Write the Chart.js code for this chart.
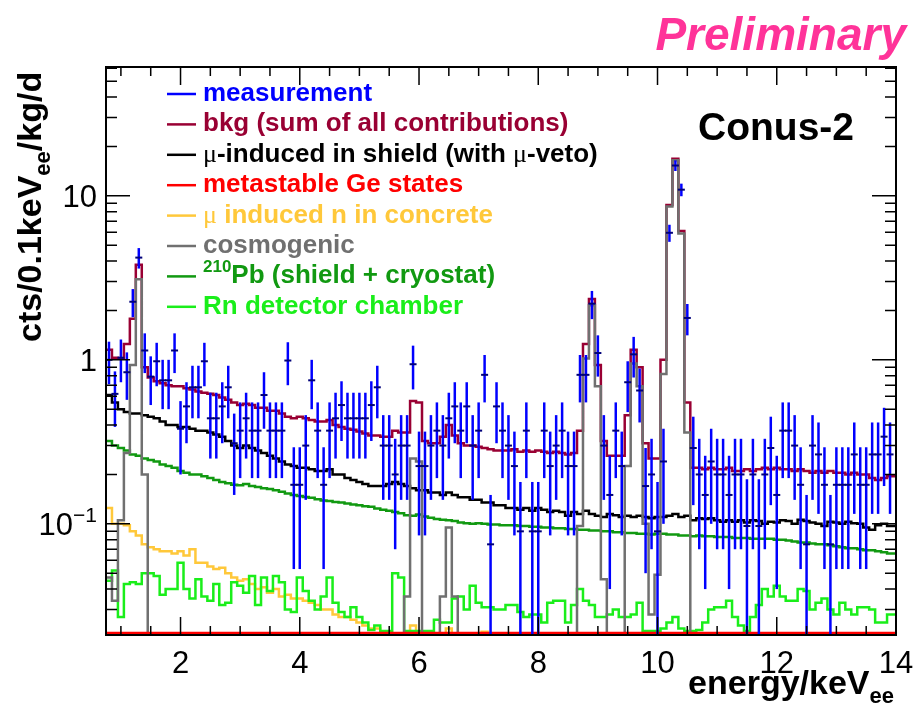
<!DOCTYPE html>
<html>
<head>
<meta charset="utf-8">
<script src="https://cdn.jsdelivr.net/npm/chart.js@4.4.0/dist/chart.umd.min.js"></script>
<style>
  html, body { margin: 0; padding: 0; background: #fff; }
  #wrap { width: 915px; height: 711px; }
</style>
</head>
<body>
<div id="wrap"><canvas id="chart" width="915" height="711"></canvas></div>
<script>
// 0.1 keV bins, first bin starts at 0.75 keV (bin centres 0.8 ... 14.0)
const binStart = 0.75;
const binWidth = 0.1;

// measured spectrum (cts/0.1keV/kg/d) and its error
const measured = [
  1.0, 0.62, 1.03, 0.84, 2.26, 4.2, 1.14, 0.79, 0.98, 0.75,
  0.75, 1.14, 0.38, 0.52, 0.68, 0.68, 0.98, 0.44, 0.44, 0.52,
  0.68, 0.31, 0.37, 0.44, 0.37, 0.37, 0.61, 0.37, 0.37, 0.37,
  0.99, 0.173, 0.173, 0.30, 0.75, 0.37, 0.173, 0.37, 0.44, 0.53,
  0.44, 0.44, 0.44, 0.44, 0.53, 0.68, 0.30, 0.30, 0.20, 0.30,
  0.30, 0.94, 0.225, 0.225, 0.30, 0.37, 0.30, 0.44, 0.52, 0.37,
  0.52, 0.30, 0.37, 0.81, 0.075, 0.52, 0.37, 0.30, 0.225, 0.09,
  0.37, 0.09, 0.09, 0.37, 0.225, 0.30, 0.37, 0.225, 0.225, 0.81,
  0.81, 2.2, 1.1, 0.30, 0.15, 0.37, 0.225, 0.73, 1.08, 0.65,
  0.17, 0.2, 0.09, 0.24, 5.95, 15.3, 10.9, 1.8, 0.29, 0.2,
  0.15, 0.24, 0.2, 0.2, 0.15, 0.2, 0.2, 0.097, 0.2, 0.097,
  0.2, 0.29, 0.15, 0.37, 0.37, 0.30, 0.173, 0.075, 0.30, 0.265,
  0.173, 0.075, 0.173, 0.173, 0.173, 0.265, 0.173, 0.173, 0.265, 0.265,
  0.34, 0.265, null
];
const measuredErr = [
  0.29, 0.23, 0.30, 0.27, 0.44, 0.60, 0.31, 0.26, 0.29, 0.25,
  0.25, 0.31, 0.18, 0.21, 0.24, 0.24, 0.29, 0.19, 0.19, 0.21,
  0.24, 0.16, 0.18, 0.19, 0.18, 0.18, 0.23, 0.18, 0.18, 0.18,
  0.29, 0.12, 0.12, 0.16, 0.25, 0.18, 0.12, 0.18, 0.19, 0.21,
  0.19, 0.19, 0.19, 0.19, 0.21, 0.24, 0.16, 0.16, 0.13, 0.16,
  0.16, 0.28, 0.14, 0.14, 0.16, 0.18, 0.16, 0.19, 0.21, 0.18,
  0.21, 0.16, 0.18, 0.26, 0.075, 0.21, 0.18, 0.16, 0.14, 0.09,
  0.18, 0.09, 0.09, 0.18, 0.14, 0.16, 0.18, 0.14, 0.14, 0.26,
  0.26, 0.43, 0.31, 0.16, 0.11, 0.18, 0.14, 0.25, 0.30, 0.235,
  0.12, 0.13, 0.09, 0.14, 0.71, 1.14, 0.96, 0.39, 0.16, 0.13,
  0.11, 0.14, 0.13, 0.13, 0.11, 0.13, 0.13, 0.09, 0.13, 0.09,
  0.13, 0.16, 0.11, 0.18, 0.18, 0.16, 0.12, 0.075, 0.16, 0.15,
  0.12, 0.075, 0.12, 0.12, 0.12, 0.15, 0.12, 0.12, 0.15, 0.15,
  0.17, 0.15, null
];

// background model: sum of all contributions
const bkgTotal = [
  1.15, 1.03, 1.02, 1.25, 1.78, 3.8, 0.9, 0.78, 0.74, 0.72,
  0.70, 0.69, 0.69, 0.67, 0.66, 0.64, 0.63, 0.62, 0.61, 0.59,
  0.57, 0.55, 0.53, 0.54, 0.53, 0.51, 0.51, 0.49, 0.49, 0.47,
  0.45, 0.44, 0.45, 0.44, 0.43, 0.42, 0.42, 0.43, 0.40, 0.39,
  0.38, 0.375, 0.365, 0.355, 0.345, 0.345, 0.34, 0.34, 0.37, 0.36,
  0.36, 0.56, 0.55, 0.32, 0.31, 0.31, 0.34, 0.40, 0.345, 0.31,
  0.30, 0.30, 0.295, 0.29, 0.285, 0.28, 0.28, 0.28, 0.285, 0.275,
  0.28, 0.275, 0.28, 0.275, 0.27, 0.275, 0.27, 0.265, 0.27, 0.37,
  1.25, 2.35, 0.93, 0.32, 0.26, 0.26, 0.26, 0.46, 1.15, 0.9,
  0.31, 0.25, 0.25, 1.0, 8.8, 16.8, 6.1, 0.55, 0.22, 0.22,
  0.215, 0.22, 0.215, 0.215, 0.22, 0.21, 0.21, 0.215, 0.21, 0.215,
  0.22, 0.215, 0.22, 0.215, 0.215, 0.21, 0.215, 0.21, 0.205, 0.21,
  0.205, 0.21, 0.205, 0.205, 0.2, 0.205, 0.2, 0.2, 0.19, 0.185,
  0.19, 0.195, 0.195
];

// mu-induced in shield (with mu-veto)
const muShield = [
  0.61, 0.55, 0.50, 0.48, 0.47, 0.47, 0.46, 0.45, 0.44, 0.42,
  0.40, 0.40, 0.39, 0.39, 0.38, 0.37, 0.37, 0.36, 0.35, 0.34,
  0.32, 0.30, 0.29, 0.30, 0.29, 0.28, 0.27, 0.26, 0.25, 0.24,
  0.23, 0.225, 0.22, 0.22, 0.215, 0.21, 0.21, 0.215, 0.20, 0.20,
  0.19, 0.185, 0.18, 0.175, 0.17, 0.17, 0.17, 0.175, 0.18, 0.175,
  0.17, 0.165, 0.16, 0.16, 0.155, 0.155, 0.15, 0.155, 0.15, 0.145,
  0.145, 0.14, 0.14, 0.135, 0.135, 0.13, 0.13, 0.125, 0.125, 0.122,
  0.125, 0.12, 0.125, 0.122, 0.118, 0.12, 0.118, 0.112, 0.118, 0.115,
  0.12, 0.115, 0.112, 0.11, 0.115, 0.113, 0.11, 0.112, 0.11, 0.112,
  0.11, 0.108, 0.11, 0.11, 0.112, 0.115, 0.11, 0.112, 0.105, 0.108,
  0.107, 0.108, 0.105, 0.103, 0.105, 0.103, 0.105, 0.102, 0.105, 0.104,
  0.10, 0.103, 0.102, 0.105, 0.104, 0.10, 0.106, 0.104, 0.102, 0.10,
  0.097, 0.103, 0.102, 0.1, 0.103, 0.101, 0.10, 0.095, 0.092, 0.098,
  0.1, 0.097, 0.097
];

// metastable Ge states (runs along the lower edge of the frame)
const metastableGe = [
  0.0216, 0.0216, 0.0216, 0.0216, 0.0216, 0.0216, 0.0216, 0.0216, 0.0216, 0.0216,
  0.0216, 0.0216, 0.0216, 0.0216, 0.0216, 0.0216, 0.0216, 0.0216, 0.0216, 0.0216,
  0.0216, 0.0216, 0.0216, 0.0216, 0.0216, 0.0216, 0.0216, 0.0216, 0.0216, 0.0216,
  0.0216, 0.0216, 0.0216, 0.0216, 0.0216, 0.0216, 0.0216, 0.0216, 0.0216, 0.0216,
  0.0216, 0.0216, 0.0216, 0.0216, 0.0216, 0.0216, 0.0216, 0.0216, 0.0216, 0.0216,
  0.0216, 0.0216, 0.0216, 0.0216, 0.0216, 0.0216, 0.0216, 0.0216, 0.0216, 0.0216,
  0.0216, 0.0216, 0.0216, 0.0216, 0.0216, 0.0216, 0.0216, 0.0216, 0.0216, 0.0216,
  0.0216, 0.0216, 0.0216, 0.0216, 0.0216, 0.0216, 0.0216, 0.0216, 0.0216, 0.0216,
  0.0216, 0.0216, 0.0216, 0.0216, 0.0216, 0.0216, 0.0216, 0.0216, 0.0216, 0.0216,
  0.0216, 0.0216, 0.0216, 0.0216, 0.0216, 0.0216, 0.0216, 0.0216, 0.0216, 0.0216,
  0.0216, 0.0216, 0.0216, 0.0216, 0.0216, 0.0216, 0.0216, 0.0216, 0.0216, 0.0216,
  0.0216, 0.0216, 0.0216, 0.0216, 0.0216, 0.0216, 0.0216, 0.0216, 0.0216, 0.0216,
  0.0216, 0.0216, 0.0216, 0.0216, 0.0216, 0.0216, 0.0216, 0.0216, 0.0216, 0.0216,
  0.0216, 0.0216, 0.0216
];

// mu induced neutrons in concrete
const muConcrete = [
  0.125, 0.1, 0.1, 0.098, 0.09, 0.085, 0.075, 0.072, 0.07, 0.068,
  0.068, 0.066, 0.068, 0.064, 0.07, 0.058, 0.058, 0.055, 0.053, 0.054,
  0.05, 0.047, 0.045, 0.046, 0.043, 0.04, 0.041, 0.038, 0.04, 0.036,
  0.037, 0.035, 0.035, 0.034, 0.033, 0.032, 0.03, 0.03, 0.028, 0.027,
  0.027, 0.026, 0.025, 0.024, 0.023, 0.023, 0.022, 0.021, 0.021, 0.021,
  0.021, 0.024, 0.022, 0.021, 0.019, 0.019, 0.021, 0.023, 0.021, 0.018,
  0.017, 0.018, 0.018, 0.022, 0.017, 0.016, 0.015, 0.015, 0.014, 0.014,
  0.013, 0.013, 0.013, 0.013, 0.013, 0.012, 0.012, 0.012, 0.012, 0.012,
  0.012, 0.012, 0.012, 0.012, 0.012, 0.012, 0.012, 0.012, 0.012, 0.012,
  0.011, 0.011, 0.011, 0.011, 0.011, 0.011, 0.011, 0.011, 0.011, 0.011,
  0.011, 0.011, 0.011, 0.011, 0.011, 0.011, 0.011, 0.011, 0.011, 0.011,
  0.010, 0.010, 0.010, 0.010, 0.010, 0.010, 0.010, 0.010, 0.010, 0.010,
  0.010, 0.010, 0.010, 0.010, 0.010, 0.010, 0.010, 0.010, 0.010, 0.010,
  0.010, 0.010, 0.010
];

// cosmogenic activation (peaks), 0.005 = below the axis
const cosmogenic = [
  0.047, 0.034, 0.105, 0.27, 0.93, 3.1, 0.2, 0.005, 0.005, 0.005,
  0.005, 0.005, 0.005, 0.005, 0.005, 0.005, 0.005, 0.005, 0.005, 0.005,
  0.005, 0.005, 0.005, 0.005, 0.005, 0.005, 0.005, 0.005, 0.005, 0.005,
  0.005, 0.005, 0.005, 0.005, 0.005, 0.005, 0.005, 0.005, 0.005, 0.005,
  0.005, 0.005, 0.005, 0.005, 0.005, 0.005, 0.005, 0.005, 0.005, 0.005,
  0.036, 0.25, 0.24, 0.005, 0.005, 0.005, 0.036, 0.095, 0.036, 0.005,
  0.005, 0.005, 0.005, 0.005, 0.005, 0.005, 0.005, 0.005, 0.005, 0.005,
  0.005, 0.005, 0.005, 0.005, 0.005, 0.005, 0.005, 0.005, 0.005, 0.097,
  1.02, 2.15, 0.69, 0.046, 0.005, 0.005, 0.005, 0.225, 0.95, 0.69,
  0.1, 0.028, 0.049, 0.82, 8.6, 16.5, 5.9, 0.36, 0.005, 0.005,
  0.005, 0.005, 0.005, 0.005, 0.005, 0.005, 0.005, 0.005, 0.005, 0.005,
  0.005, 0.005, 0.005, 0.005, 0.005, 0.005, 0.005, 0.005, 0.005, 0.005,
  0.005, 0.005, 0.005, 0.005, 0.005, 0.005, 0.005, 0.005, 0.005, 0.005,
  0.005, 0.005, 0.005
];

// 210Pb (shield + cryostat)
const pb210 = [
  0.32, 0.30, 0.29, 0.28, 0.265, 0.26, 0.25, 0.245, 0.24, 0.23,
  0.225, 0.22, 0.21, 0.205, 0.2, 0.2, 0.195, 0.19, 0.185, 0.18,
  0.177, 0.173, 0.172, 0.175, 0.17, 0.168, 0.165, 0.163, 0.16, 0.157,
  0.153, 0.15, 0.148, 0.146, 0.144, 0.141, 0.139, 0.138, 0.136, 0.135,
  0.133, 0.131, 0.13, 0.128, 0.127, 0.124, 0.122, 0.12, 0.118, 0.116,
  0.113, 0.112, 0.114, 0.111, 0.109, 0.107, 0.106, 0.105, 0.104, 0.102,
  0.101, 0.1, 0.101, 0.1, 0.099, 0.099, 0.098, 0.098, 0.098, 0.097,
  0.097, 0.096, 0.096, 0.095, 0.095, 0.094, 0.094, 0.093, 0.093, 0.092,
  0.092, 0.091, 0.091, 0.09, 0.09, 0.089, 0.089, 0.088, 0.088, 0.087,
  0.087, 0.086, 0.087, 0.087, 0.086, 0.086, 0.085, 0.085, 0.084, 0.085,
  0.084, 0.084, 0.083, 0.083, 0.083, 0.082, 0.082, 0.082, 0.081, 0.081,
  0.081, 0.081, 0.08, 0.08, 0.079, 0.078, 0.077, 0.077, 0.076, 0.075,
  0.075, 0.074, 0.073, 0.072, 0.071, 0.071, 0.07, 0.069, 0.069, 0.068,
  0.067, 0.066, 0.066
];

// Rn in detector chamber
const rnChamber = [
  0.045, 0.052, 0.027, 0.043, 0.044, 0.043, 0.05, 0.05, 0.048, 0.037,
  0.04, 0.04, 0.058, 0.04, 0.035, 0.046, 0.036, 0.034, 0.043, 0.032,
  0.033, 0.044, 0.042, 0.038, 0.048, 0.032, 0.047, 0.039, 0.048, 0.044,
  0.03, 0.029, 0.047, 0.039, 0.034, 0.03, 0.036, 0.047, 0.033, 0.029,
  0.027, 0.031, 0.027, 0.025, 0.0225, 0.024, 0.0222, 0.0222, 0.05, 0.047,
  0.0222, 0.0222, 0.0222, 0.0222, 0.0222, 0.026, 0.025, 0.025, 0.035, 0.036,
  0.03, 0.042, 0.033, 0.031, 0.031, 0.03, 0.03, 0.032, 0.032, 0.029,
  0.027, 0.028, 0.028, 0.025, 0.033, 0.034, 0.034, 0.025, 0.032, 0.04,
  0.034, 0.032, 0.027, 0.027, 0.028, 0.03, 0.027, 0.027, 0.028, 0.033,
  0.0222, 0.0222, 0.0222, 0.023, 0.025, 0.027, 0.023, 0.0222, 0.0222, 0.0225,
  0.025, 0.03, 0.031, 0.031, 0.034, 0.027, 0.024, 0.0222, 0.027, 0.032,
  0.04, 0.036, 0.042, 0.036, 0.034, 0.034, 0.04, 0.039, 0.03, 0.033,
  0.035, 0.03, 0.028, 0.033, 0.03, 0.028, 0.031, 0.031, 0.03, 0.025,
  0.025, 0.028, 0.028
];

// axis ticks
const xTickLabels = [2, 4, 6, 8, 10, 12, 14];
const yTickLabels = [0.1, 1, 10];

const FONT = '"Liberation Sans", Arial, Helvetica, sans-serif';
const SERIF = '"Liberation Serif", "DejaVu Serif", serif';

// histogram as steps: one point per lower bin edge plus the last upper edge
function histPoints(values) {
  const pts = values.map((v, i) => ({ x: binStart + i * binWidth, y: v }));
  pts.push({ x: binStart + values.length * binWidth, y: values[values.length - 1] });
  return pts;
}

function histDataset(label, values, color) {
  return {
    label: label,
    data: histPoints(values),
    borderColor: color,
    borderWidth: 2.5,
    pointRadius: 0,
    stepped: true,
    fill: false
  };
}

// draw a row of text pieces with different fonts / offsets
function drawRich(ctx, parts, x, y, align) {
  let w = 0;
  parts.forEach(p => { ctx.font = p.font; w += ctx.measureText(p.text).width; });
  let cx = align === 'right' ? x - w : (align === 'center' ? x - w / 2 : x);
  ctx.textAlign = 'left';
  ctx.textBaseline = 'alphabetic';
  parts.forEach(p => {
    ctx.font = p.font;
    if (p.color) ctx.fillStyle = p.color;
    ctx.fillText(p.text, cx, y + (p.dy || 0));
    cx += ctx.measureText(p.text).width;
  });
}

// vertical error bars for the measurement, drawn just before its markers
const errorBars = {
  id: 'errorBars',
  beforeDatasetDraw(chart, args) {
    if (args.index !== 0) return;
    const { ctx, chartArea: a, scales: { x, y } } = chart;
    ctx.save();
    ctx.beginPath();
    ctx.rect(a.left, a.top, a.right - a.left, a.bottom - a.top);
    ctx.clip();
    ctx.strokeStyle = '#0000ff';
    ctx.lineWidth = 2.5;
    measured.forEach((v, i) => {
      if (v === null) return;
      const px = x.getPixelForValue(binStart + (i + 0.5) * binWidth);
      const lo = v - measuredErr[i];
      const top = y.getPixelForValue(v + measuredErr[i]);
      const bot = lo > 1e-6 ? Math.min(y.getPixelForValue(lo), a.bottom) : a.bottom;
      ctx.beginPath();
      ctx.moveTo(px, top);
      ctx.lineTo(px, bot);
      ctx.stroke();
    });
    ctx.restore();
  }
};

// ROOT style frame, ticks, labels, legend and texts
const decorations = {
  id: 'decorations',
  afterDraw(chart) {
    const { ctx, chartArea: a, scales: { x, y } } = chart;
    ctx.save();

    // frame
    ctx.strokeStyle = '#000';
    ctx.lineWidth = 2;
    ctx.strokeRect(a.left, a.top, a.right - a.left, a.bottom - a.top);

    // x ticks (inside, bottom and top)
    ctx.lineWidth = 1.5;
    for (let e = 1; e <= 14; e += 0.5) {
      const px = x.getPixelForValue(e);
      const len = xTickLabels.includes(e) ? 18 : 9;
      ctx.beginPath();
      ctx.moveTo(px, a.bottom); ctx.lineTo(px, a.bottom - len);
      ctx.moveTo(px, a.top); ctx.lineTo(px, a.top + len);
      ctx.stroke();
    }
    // y ticks (inside, left and right)
    [0.01, 0.1, 1, 10].forEach(dec => {
      for (let k = 1; k <= 9; k++) {
        const v = dec * k;
        if (v < y.min || v > y.max) continue;
        const py = y.getPixelForValue(v);
        const len = k === 1 ? 24 : 11;
        ctx.beginPath();
        ctx.moveTo(a.left, py); ctx.lineTo(a.left + len, py);
        ctx.moveTo(a.right, py); ctx.lineTo(a.right - len, py);
        ctx.stroke();
      }
    });

    // tick labels
    ctx.fillStyle = '#000';
    const tickFont = '31px ' + FONT;
    xTickLabels.forEach(e => {
      drawRich(ctx, [{ text: String(e), font: tickFont }], x.getPixelForValue(e), a.bottom + 38, 'center');
    });
    yTickLabels.forEach(v => {
      const py = y.getPixelForValue(v) + 11;
      if (v < 1) {
        drawRich(ctx, [{ text: '10', font: tickFont }, { text: '\u22121', font: '21px ' + FONT, dy: -13 }], 97, py, 'right');
      } else {
        drawRich(ctx, [{ text: String(v), font: tickFont }], 97, py, 'right');
      }
    });

    // axis titles
    const titleFont = 'bold 34px ' + FONT;
    const subFont = 'bold 22px ' + FONT;
    drawRich(ctx, [{ text: 'energy/keV', font: titleFont }, { text: 'ee', font: subFont, dy: 9 }], 894, 694, 'right');
    ctx.save();
    ctx.translate(41, 342);
    ctx.rotate(-Math.PI / 2);
    drawRich(ctx, [
      { text: 'cts/0.1keV', font: titleFont },
      { text: 'ee', font: subFont, dy: 9 },
      { text: '/kg/d', font: titleFont }
    ], 0, 0, 'left');
    ctx.restore();

    // Preliminary and detector name
    ctx.fillStyle = '#ff3399';
    drawRich(ctx, [{ text: 'Preliminary', font: 'italic bold 46px ' + FONT }], 906, 50, 'right');
    ctx.fillStyle = '#000';
    drawRich(ctx, [{ text: 'Conus-2', font: 'bold 39px ' + FONT }], 698, 140, 'left');

    // legend
    const lf = 'bold 26px ' + FONT;
    const mu = '26px ' + SERIF;
    const rows = [
      { color: '#0000ff', parts: [{ text: 'measurement', font: lf }] },
      { color: '#990033', parts: [{ text: 'bkg (sum of all contributions)', font: lf }] },
      { color: '#000000', parts: [{ text: '\u03bc', font: mu }, { text: '-induced in shield (with ', font: lf }, { text: '\u03bc', font: mu }, { text: '-veto)', font: lf }] },
      { color: '#ff0000', parts: [{ text: 'metastable Ge states', font: lf }] },
      { color: '#ffc83a', parts: [{ text: '\u03bc', font: mu }, { text: ' induced n in concrete', font: lf }] },
      { color: '#707070', parts: [{ text: 'cosmogenic', font: lf }] },
      { color: '#119911', parts: [{ text: '210', font: 'bold 17px ' + FONT, dy: -11 }, { text: 'Pb (shield + cryostat)', font: lf }] },
      { color: '#1aee1a', parts: [{ text: 'Rn detector chamber', font: lf }] }
    ];
    rows.forEach((r, i) => {
      const base = 101 + i * 30.4;
      ctx.strokeStyle = r.color;
      ctx.lineWidth = 2.5;
      ctx.beginPath();
      ctx.moveTo(167, base - 7); ctx.lineTo(196, base - 7);
      ctx.stroke();
      ctx.fillStyle = r.color;
      drawRich(ctx, r.parts, 203, base, 'left');
    });

    ctx.restore();
  }
};

const centres = measured.map((v, i) => ({ x: binStart + (i + 0.5) * binWidth, y: v }));

new Chart(document.getElementById('chart'), {
  type: 'line',
  data: {
    datasets: [
      {
        label: 'measurement',
        data: centres,
        showLine: false,
        pointStyle: 'line',
        pointRadius: 3.5,
        pointBorderWidth: 2,
        borderColor: '#00007a',
        backgroundColor: '#00007a'
      },
      histDataset('metastable Ge states', metastableGe, '#ff0000'),
      histDataset('cosmogenic', cosmogenic, '#707070'),
      histDataset('bkg (sum of all contributions)', bkgTotal, '#990033'),
      histDataset('mu-induced in shield (with mu-veto)', muShield, '#000000'),
      histDataset('210Pb (shield + cryostat)', pb210, '#119911'),
      histDataset('Rn detector chamber', rnChamber, '#1aee1a'),
      histDataset('mu induced n in concrete', muConcrete, '#ffc83a')
    ]
  },
  options: {
    responsive: false,
    animation: false,
    devicePixelRatio: 1,
    layout: { padding: { left: 106, right: 19, top: 67, bottom: 76 } },
    plugins: { legend: { display: false }, tooltip: { enabled: false } },
    scales: {
      x: { type: 'linear', min: 0.75, max: 14, display: false },
      y: { type: 'logarithmic', min: 0.021, max: 61, display: false }
    }
  },
  plugins: [errorBars, decorations]
});
</script>
</body>
</html>
